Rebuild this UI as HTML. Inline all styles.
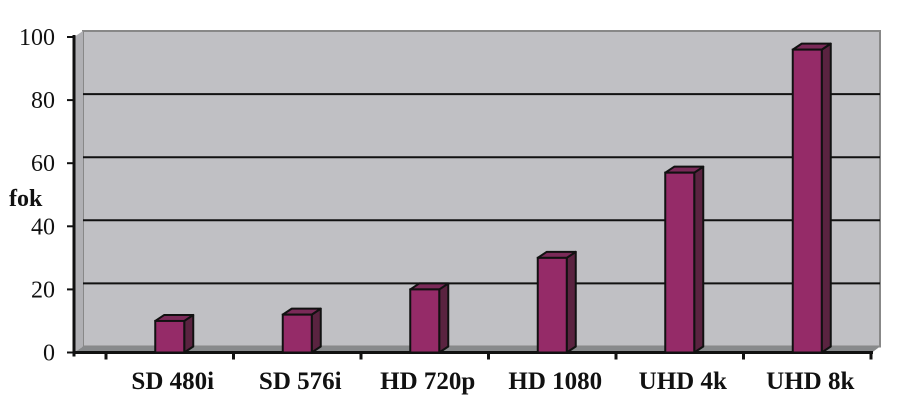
<!DOCTYPE html>
<html><head><meta charset="utf-8"><style>
body{margin:0;background:#fff;width:915px;height:407px;overflow:hidden}
svg text{font-family:"Liberation Serif",serif}
</style></head><body>
<svg id="chart" width="915" height="407" xmlns="http://www.w3.org/2000/svg">
</svg>
<script>
const categories=["SD 480i","SD 576i","HD 720p","HD 1080","UHD 4k","UHD 8k"];
const values=[10,12,20,30,57,96];
const yTicks=[0,20,40,60,80,100];
const NS="http://www.w3.org/2000/svg";
const svg=document.getElementById('chart');
const x0=106,x1=871,y0=352.5,yTop=37,dx=9,dy=6,bw=29;
const y=v=>y0-(v/100)*(y0-yTop);
const band=(x1-x0)/categories.length;
const xc=i=>x0+band*(i+0.5);
function mk(t,a,p){const e=document.createElementNS(NS,t);for(const k in a)e.setAttribute(k,a[k]);(p||svg).appendChild(e);return e;}
const wall=mk('polygon',{points:`${74+dx},${yTop-dy} ${880},${yTop-dy} ${880},${y0-dy} ${74+dx},${y0-dy}`,fill:'#c0c0c4',stroke:'#888',"stroke-width":2});

const side=mk('polygon',{points:`74,${yTop} ${74+dx},${yTop-dy} ${74+dx},${y0-dy} 74,${y0}`,fill:'#b0b0b4'});

const floor=mk('polygon',{points:`74,${y0} ${74+dx},${y0-dy} 880,${y0-dy} 872,${y0}`,fill:'#888a8c'});

yTicks.forEach(v=>{
 if(v>0&&v<100){const g=mk('line',{x1:74+dx,x2:880,y1:y(v)-dy,y2:y(v)-dy,stroke:'#111',"stroke-width":2});
 }
 const t=mk('line',{x1:67,x2:74,y1:y(v),y2:y(v),stroke:'#111',"stroke-width":2});
 
 const l=mk('text',{x:55,y:y(v)+8,"text-anchor":"end","font-size":24,fill:'#111'});l.textContent=v;
 
});
const ya=mk('line',{x1:74,x2:74,y1:yTop-2,y2:y0+4,stroke:'#111',"stroke-width":3});

const xa=mk('line',{x1:74,x2:873,y1:y0,y2:y0,stroke:'#111',"stroke-width":3});

for(let i=0;i<=categories.length;i++){const t=mk('line',{x1:x0+band*i,x2:x0+band*i,y1:y0,y2:y0+7,stroke:'#111',"stroke-width":3});
 }
const yt=mk('text',{x:9,y:206,"font-size":24,"font-weight":"bold",fill:'#111'});yt.textContent='fok';

categories.forEach((c,i)=>{
 const cx=xc(i),L=cx-bw/2,R=cx+bw/2,T=y(values[i]);
 const g=mk('g',{});
 
 
 mk('polygon',{points:`${R},${T} ${R+dx},${T-dy} ${R+dx},${y0-dy} ${R},${y0}`,fill:'#5a2340',stroke:'#111',"stroke-width":2,"stroke-linejoin":"round"},g);
 mk('polygon',{points:`${L},${T} ${L+dx},${T-dy} ${R+dx},${T-dy} ${R},${T}`,fill:'#7a2a58',stroke:'#111',"stroke-width":2,"stroke-linejoin":"round"},g);
 mk('rect',{x:L,y:T,width:bw,height:y0-T,fill:'#952b68',stroke:'#111',"stroke-width":2},g);
 const l=mk('text',{x:cx+3,y:389,"text-anchor":"middle","font-size":25,"font-weight":"bold",fill:'#111'});l.textContent=c;
 
});
</script>
</body></html>
